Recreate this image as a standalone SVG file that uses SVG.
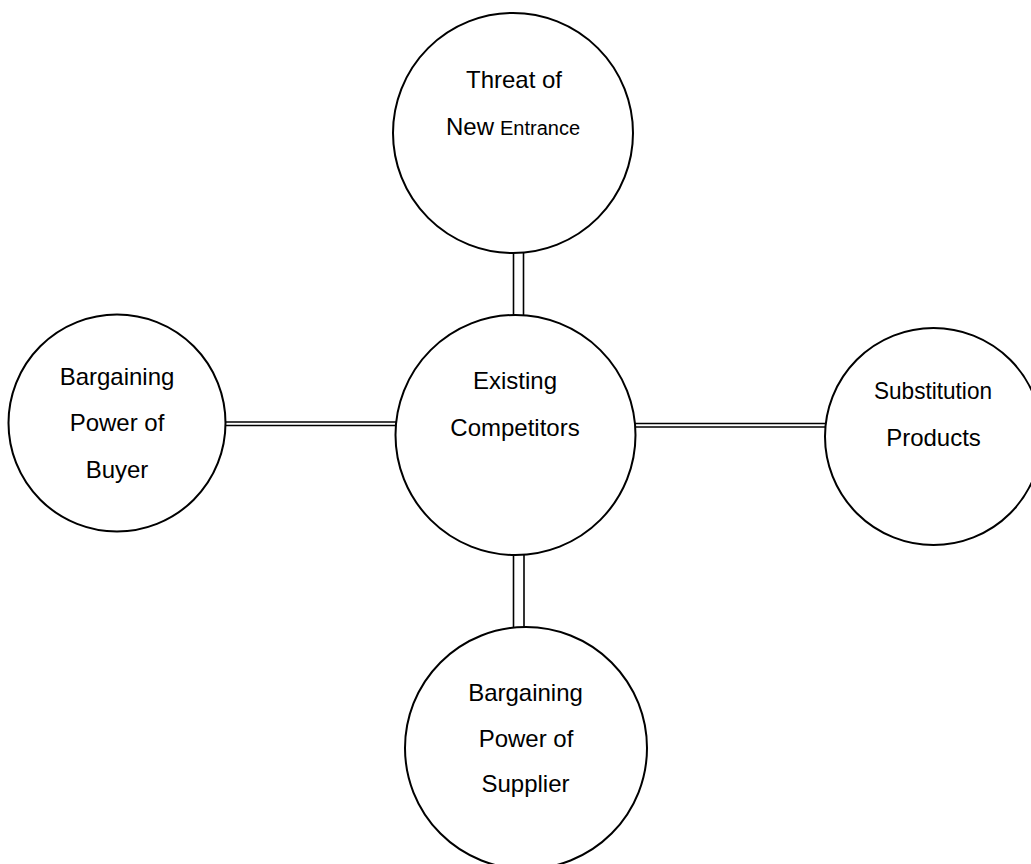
<svg xmlns="http://www.w3.org/2000/svg" width="1031" height="864" viewBox="0 0 1031 864">
<style>
.node{fill:#fff;stroke:#000;stroke-width:2}
.lbl{font-family:"Liberation Sans",Arial,sans-serif;font-size:24px;fill:#000;text-anchor:middle}
.conn line{stroke:#000;stroke-width:1.6}
</style>
<rect width="1031" height="864" fill="#fff"/>
<g id="connectors" class="conn">
<line x1="513.5" y1="252" x2="513.5" y2="316"/>
<line x1="523.5" y1="252" x2="523.5" y2="316"/>
<line x1="513.5" y1="554" x2="513.5" y2="628"/>
<line x1="524" y1="554" x2="524" y2="628"/>
<line x1="225" y1="422" x2="396" y2="422"/>
<line x1="225" y1="425.5" x2="396" y2="425.5"/>
<line x1="634" y1="423.5" x2="826" y2="423.5"/>
<line x1="634" y1="427" x2="826" y2="427"/>
</g>
<g id="threat">
<circle class="node" cx="513" cy="133" r="120"/>
<text class="lbl" x="514" y="88">Threat of</text>
<text class="lbl" x="513" y="135"><tspan>New</tspan><tspan font-size="20" dx="6">Entrance</tspan></text>
</g>
<g id="existing">
<circle class="node" cx="515.5" cy="435" r="120"/>
<text class="lbl" x="515" y="389">Existing</text>
<text class="lbl" x="515" y="435.5">Competitors</text>
</g>
<g id="buyer">
<circle class="node" cx="117" cy="423" r="108.5"/>
<text class="lbl" x="117" y="385">Bargaining</text>
<text class="lbl" x="117" y="431">Power of</text>
<text class="lbl" x="117" y="477.5">Buyer</text>
</g>
<g id="substitution">
<circle class="node" cx="933.5" cy="436.5" r="108.5"/>
<text class="lbl" x="933" y="399" font-size="21" textLength="118" lengthAdjust="spacingAndGlyphs">Substitution</text>
<text class="lbl" x="933.5" y="445.5">Products</text>
</g>
<g id="supplier">
<circle class="node" cx="526" cy="748" r="121"/>
<text class="lbl" x="525.5" y="700.5">Bargaining</text>
<text class="lbl" x="526" y="746.5">Power of</text>
<text class="lbl" x="525.5" y="792">Supplier</text>
</g>
</svg>
